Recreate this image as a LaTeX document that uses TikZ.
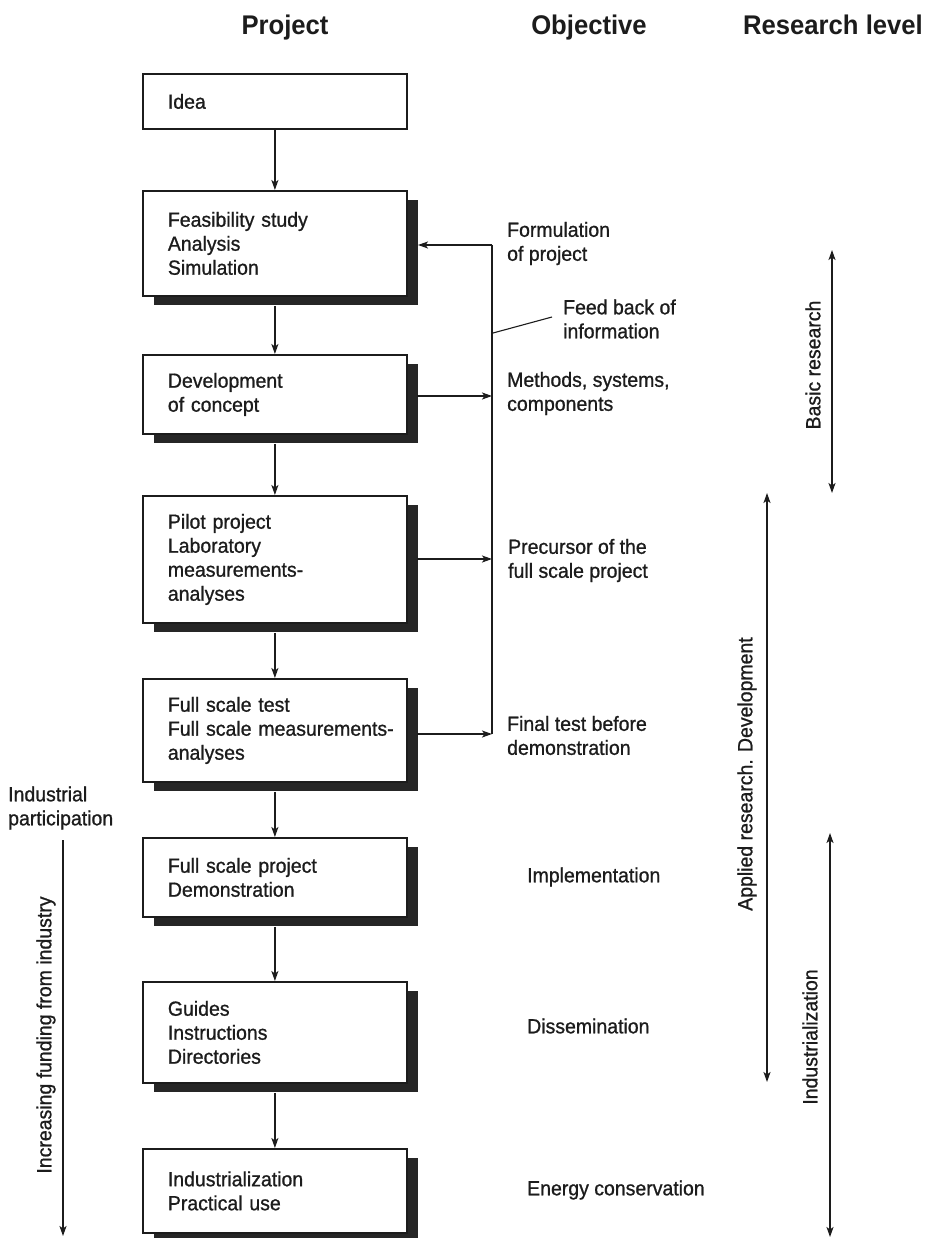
\documentclass[tikz,border=0pt]{standalone}
\usepackage{fontspec}
\setmainfont{Liberation Sans}
\newfontfamily\bodyfont[FakeStretch=0.95,FakeBold=0.9]{Liberation Sans}
\newfontfamily\headfont[FakeStretch=0.95]{Liberation Sans}
\usetikzlibrary{arrows.meta,shadows}
\definecolor{ink}{HTML}{1C1C1C}
\definecolor{shade}{HTML}{262626}
\tikzset{
  txt/.style={font=\bodyfont\fontsize{20.5}{24}\selectfont, text=ink},
  head/.style={font=\headfont\bfseries\fontsize{27}{30}\selectfont, text=ink, anchor=base, inner sep=0pt},
  box/.style={txt, draw=ink, line width=1.8pt, fill=white, anchor=north west,
    text width=214pt, inner xsep=25pt, inner ysep=0pt, align=left},
  sbox/.style={box, general shadow={fill=shade, shadow xshift=11pt, shadow yshift=-9pt}},
  lbl/.style={txt, anchor=west, align=left, inner sep=0pt},
  rot/.style={txt, rotate=90, anchor=center, inner sep=0pt},
  conn/.style={draw=ink, line width=1.5pt},
  arr/.style={conn, -{Stealth[length=10pt,width=7pt,inset=2.5pt]}},
  dbl/.style={conn, {Stealth[length=10pt,width=7pt,inset=2.5pt]}-{Stealth[length=10pt,width=7pt,inset=2.5pt]}}
}
\begin{document}
\begin{tikzpicture}[x=1pt,y=-1pt]
\useasboundingbox (0,0) rectangle (929,1238);
\fill[white] (0,0) rectangle (929,1238);

% headers
\node[head] (hp) at (285,35) {Project};
\node[head] (ho) at (589,35) {Objective};
\node[head] (hr) at (833,35) {Research level};

% project boxes
\node[box, minimum height=55pt] (b1) at (142,73) {Idea};
\node[sbox, minimum height=105pt] (b2) at (142,190) {Feasibility study\\Analysis\\Simulation};
\node[sbox, minimum height=79pt] (b3) at (142,354) {Development\\of concept};
\node[sbox, minimum height=127pt] (b4) at (142,495) {Pilot project\\Laboratory\\measurements-\\analyses};
\node[sbox, minimum height=103pt] (b5) at (142,678) {Full scale test\\\mbox{Full scale measurements-}\\analyses};
\node[sbox, minimum height=79pt] (b6) at (142,837) {Full scale project\\Demonstration};
\node[sbox, minimum height=101pt] (b7) at (142,981) {Guides\\Instructions\\Directories};
\node[sbox, minimum height=84pt] (b8) at (142,1148) {Industrialization\\Practical use};

% vertical flow
\draw[arr] (b1.south) -- (b2.north);
\draw[arr] ([yshift=-9pt]b2.south) -- (b3.north);
\draw[arr] ([yshift=-9pt]b3.south) -- (b4.north);
\draw[arr] ([yshift=-9pt]b4.south) -- (b5.north);
\draw[arr] ([yshift=-9pt]b5.south) -- (b6.north);
\draw[arr] ([yshift=-9pt]b6.south) -- (b7.north);
\draw[arr] ([yshift=-9pt]b7.south) -- (b8.north);

% feedback
\coordinate (f2) at (492,245);
\coordinate (f3) at (492,396);
\coordinate (f4) at (492,559);
\coordinate (f5) at (492,734);
\coordinate (e2) at (418,245);
\coordinate (e3) at (417,396);
\coordinate (e4) at (417,559);
\coordinate (e5) at (417,734);
\draw[conn] (f2) -- (f5);
\draw[arr] (f2) -- (e2);
\draw[arr] (e3) -- (f3);
\draw[arr] (e4) -- (f4);
\draw[arr] (e5) -- (f5);
\coordinate (s1) at (493,333);
\coordinate (s2) at (552,317);
\draw[conn, line width=1.1pt] (s1) -- (s2);

% objectives
\node[lbl] (o2) at (507,243.5) {Formulation\\of project};
\node[lbl] (ofb) at (563,319) {Feed back of\\information};
\node[lbl] (o3) at (507,393.5) {Methods, systems,\\components};
\node[lbl] (o4) at (508,560.5) {Precursor of the\\full scale project};
\node[lbl] (o5) at (507,735.5) {Final test before\\demonstration};
\node[lbl] (o6) at (527,877) {Implementation};
\node[lbl] (o7) at (527,1026) {Dissemination};
\node[lbl] (o8) at (527,1190) {Energy conservation};

% left: industrial participation
\node[lbl] (ip) at (8,808) {Industrial\\participation};
\coordinate (la1) at (63,840);
\coordinate (la2) at (63,1236);
\draw[arr] (la1) -- (la2);
\node[rot] (lt) at (46,1035) {Increasing funding from industry};

% research levels
\coordinate (r1a) at (832,250);
\coordinate (r1b) at (832,493);
\draw[dbl] (r1a) -- (r1b);
\node[rot] (rt1) at (813,365) {Basic research};
\coordinate (r2a) at (767,493);
\coordinate (r2b) at (767,1082);
\draw[dbl] (r2a) -- (r2b);
\node[rot] (rt2) at (747,774) {Applied research. Development};
\coordinate (r3a) at (830,833);
\coordinate (r3b) at (830,1237);
\draw[dbl] (r3a) -- (r3b);
\node[rot] (rt3) at (810,1037) {Industrialization};
\end{tikzpicture}
\end{document}
